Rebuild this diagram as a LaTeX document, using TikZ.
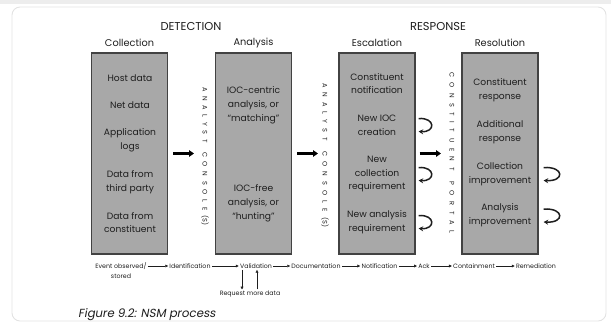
\documentclass[tikz,border=0pt]{standalone}
\usepackage{fontspec}
\setmainfont{Poppins}
\newfontfamily\capfont[FakeSlant=0.18]{Poppins}
\usetikzlibrary{arrows.meta}
\definecolor{boxfill}{RGB}{168,168,168}
\definecolor{boxline}{RGB}{66,66,66}
\definecolor{ink}{RGB}{30,30,30}
\definecolor{framegray}{RGB}{226,226,226}
\begin{document}
\begin{tikzpicture}[x=1bp,y=-1bp,
  stage/.style={draw=boxline, fill=boxfill, line width=1.3bp, minimum width=76bp, minimum height=201bp, inner sep=0},
  item/.style={align=center, font=\fontsize{9.2}{13.8}\selectfont, text=ink, inner sep=1bp},
  head/.style={font=\fontsize{9.8}{11}\selectfont, text=ink},
  phase/.style={font=\fontsize{11.5}{12}\selectfont, text=ink},
  vlabel/.style={rotate=-90, font=\fontsize{6.6}{7}\selectfont, text=ink, inner sep=0},
  bigarrow/.style={-{Triangle[length=5bp,width=6.5bp]}, line width=2.3bp, draw=black},
  loopar/.style={-{Stealth[length=4.5bp,width=5bp]}, line width=1.5bp, draw=ink},
  tl/.style={font=\fontsize{6.3}{10.5}\selectfont, text=ink, inner sep=1.2bp, align=center},
  tlarrow/.style={-{Triangle[length=2.8bp,width=2.8bp]}, line width=0.5bp, draw=ink}
]
\useasboundingbox (0,0) rectangle (611,323);
% page edge and frame
\fill[black!7] (0,0) rectangle (611,4);
\draw[framegray, line width=0.9bp, rounded corners=8bp] (12,7) rectangle (606,321);

% phase titles
\node[phase] (detection) at (191,26) {DETECTION};
\node[phase] (response) at (438,26) {RESPONSE};

% stage boxes
\node[stage] (collection) at (129.5,153.5) {};
\node[stage] (analysis) at (253.5,153.5) {};
\node[stage] (escalation) at (377,153.5) {};
\node[stage] (resolution) at (500,153.5) {};

\node[head] (hcollection) at (129.5,43) {Collection};
\node[head] (hanalysis) at (253.5,43) {Analysis};
\node[head] (hescalation) at (377,43) {Escalation};
\node[head] (hresolution) at (500,43) {Resolution};

% collection items
\node[item] (host) at (130,78) {Host data};
\node[item] (net) at (130,105) {Net data};
\node[item] (applogs) at (130,140) {Application\\logs};
\node[item] (thirdparty) at (130,182) {Data from\\third party};
\node[item] (fromconst) at (130,222.5) {Data from\\constituent};

% analysis items
\node[item] (matching) at (253.5,105) {IOC-centric\\analysis, or\\“matching”};
\node[item] (hunting) at (253.5,203) {IOC-free\\analysis, or\\“hunting”};

% escalation items
\node[item] (notif) at (377,83.5) {Constituent\\notification};
\node[item] (newioc) at (377,125) {New IOC\\creation};
\node[item] (newcoll) at (377,174) {New\\collection\\requirement};
\node[item] (newanal) at (377,222) {New analysis\\requirement};

% resolution items
\node[item] (constresp) at (500,90.5) {Constituent\\response};
\node[item] (addresp) at (500,132.5) {Additional\\response};
\node[item] (collimp) at (500,174) {Collection\\improvement};
\node[item] (analimp) at (500,215.5) {Analysis\\improvement};

% vertical hand-off labels
\node[vlabel] (console1) at (205,156) {\makebox[138bp][s]{A N A L Y S T\ \ C O N S O L E\ (S)}};
\node[vlabel] (console2) at (325,155) {\makebox[144bp][s]{A N A L Y S T\ \ C O N S O L E\ (S)}};
\node[vlabel] (portal) at (452,152.5) {\makebox[161bp][s]{C O N S T I T U E N T\ \ P O R T A L}};

% hand-off arrows
\draw[bigarrow, shorten <=5bp, shorten >=11bp] (collection.east) -- (collection.east -| console1);
\draw[bigarrow, shorten <=5bp, shorten >=7bp] (analysis.east) -- (analysis.east -| console2);
\draw[bigarrow, shorten <=4bp, shorten >=11bp] (escalation.east) -- (escalation.east -| portal);

% feedback loops
\foreach \it in {newioc,newcoll,newanal}{
  \draw[loopar] ([xshift=3bp,yshift=6.5bp]escalation.east |- \it) .. controls +(17,-1) and +(17,1) .. ([xshift=3bp,yshift=-6.5bp]escalation.east |- \it);
}
\foreach \it in {collimp,analimp}{
  \draw[loopar] ([xshift=5bp,yshift=6.5bp]resolution.east |- \it) .. controls +(21,-1) and +(21,1) .. ([xshift=5bp,yshift=-6.5bp]resolution.east |- \it);
}

% incident timeline
\node[tl] (event) at (121,270.5) {Event observed/\\stored};
\node[tl] (ident) at (190,266) {Identification};
\node[tl] (valid) at (256,266) {Validation};
\node[tl] (docu) at (316,266) {Documentation};
\node[tl] (notify) at (379.5,266) {Notification};
\node[tl] (ack) at (424,266) {Ack};
\node[tl] (contain) at (474,266) {Containment};
\node[tl] (remed) at (536,266) {Remediation};
\node[tl] (request) at (250,294) {Request more data};

\draw[tlarrow] (event.east |- ident) -- (ident);
\draw[tlarrow] (ident) -- (valid);
\draw[tlarrow] (valid) -- (docu);
\draw[tlarrow] (docu) -- (notify);
\draw[tlarrow] (notify) -- (ack);
\draw[tlarrow] (ack) -- (contain);
\draw[tlarrow] (contain) -- (remed);
\draw[tlarrow] ([xshift=-14bp]valid.south) -- ([xshift=-14bp]valid.south |- request.north);
\draw[tlarrow] ([xshift=1bp]valid.south |- request.north) -- ([xshift=1bp]valid.south);

% caption
\node[anchor=base west, inner sep=0, font=\capfont\fontsize{11.8}{13}\selectfont, text=ink] (caption) at (78,317.5) {Figure 9.2: NSM process};
\end{tikzpicture}
\end{document}
